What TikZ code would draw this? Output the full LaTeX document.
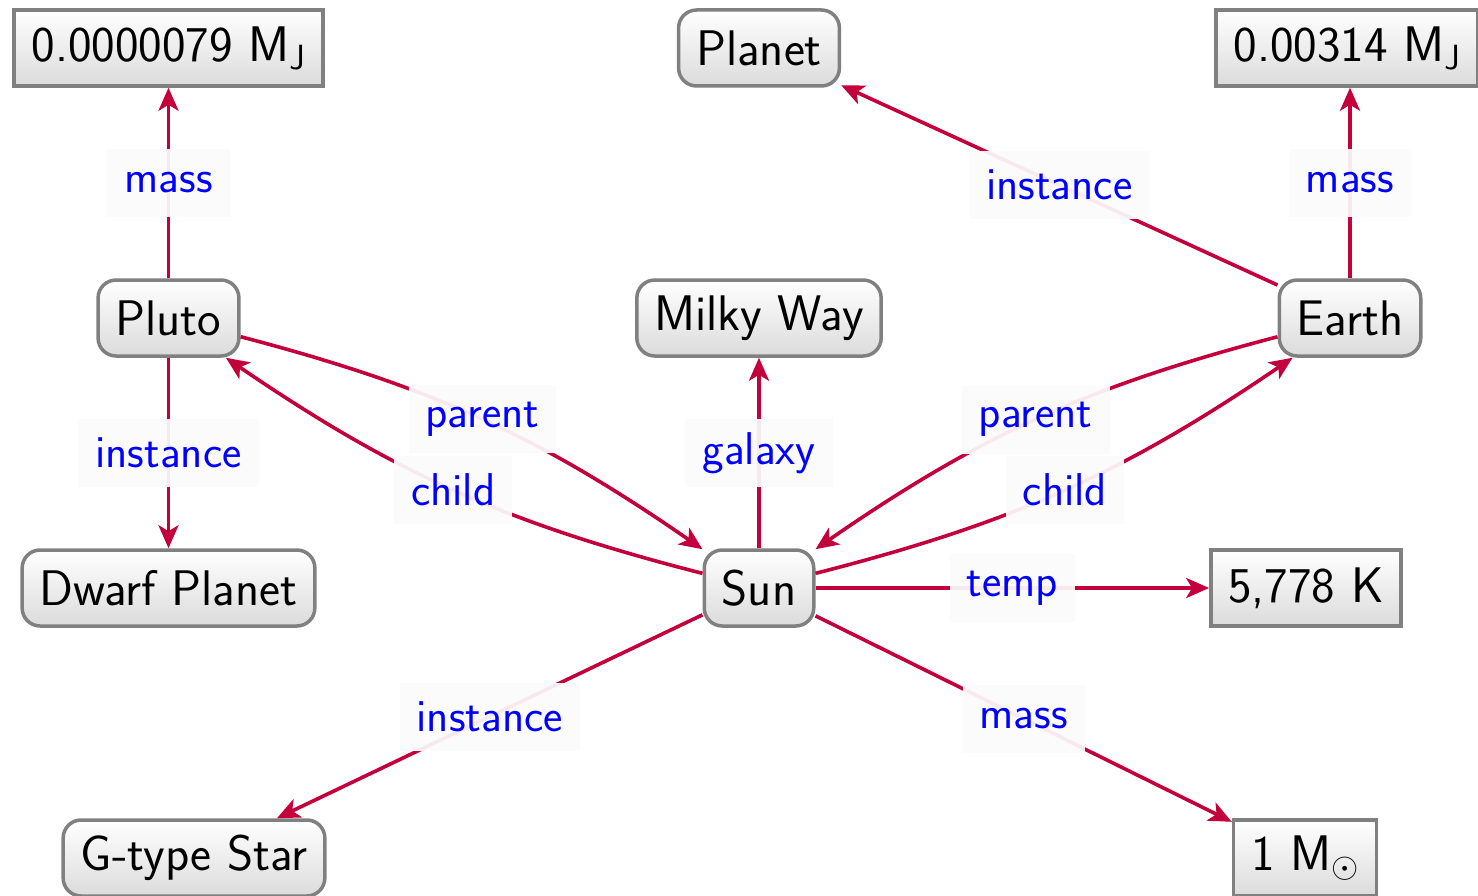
\documentclass[tikz,border=0pt]{standalone}
\usepackage{fix-cm}
\usetikzlibrary{arrows.meta}
\definecolor{edgecol}{RGB}{196,0,60}
\definecolor{labfill}{RGB}{252,251,252}
\tikzset{
  box/.style={draw=gray, line width=3.5pt, top color=white, bottom color=gray!28, minimum height=76pt, inner xsep=17.5pt, font=\fontsize{50}{60}\selectfont\sffamily},
  ent/.style={box, rounded corners=18pt},
  val/.style={box},
  rel/.style={draw=edgecol, line width=3.6pt, -{Stealth[length=23pt,width=20pt,inset=6pt]}},
  lab/.style={fill=labfill, fill opacity=0.93, text opacity=1, text=blue, inner xsep=17pt, minimum height=68pt}
}
\begin{document}
\begin{tikzpicture}[x=1pt, y=-1pt, font=\fontsize{46}{55}\selectfont\sffamily]
\useasboundingbox (0,0) rectangle (1478,896);
\node[val] (m1) at (168.5,48) {0.0000079 M$_\mathsf{J}$};
\node[ent] (planet) at (759,48) {Planet};
\node[val] (m2) at (1347,48) {0.00314 M$_\mathsf{J}$};
\node[ent] (pluto) at (168.5,318) {Pluto};
\node[ent] (mw) at (759,318) {Milky Way};
\node[ent] (earth) at (1350,318) {Earth};
\node[ent] (dwarf) at (168.5,588) {Dwarf Planet};
\node[ent] (sun) at (759,588) {Sun};
\node[val] (temp) at (1306,588) {5,778 K};
\node[ent] (gstar) at (194,858) {G-type Star};
\node[val] (msun) at (1305,858) {1 M$_\odot$};
\draw[rel] (pluto) -- node[lab]{mass} (m1);
\draw[rel] (pluto) -- node[lab]{instance} (dwarf);
\draw[rel] (earth.north) -- node[lab]{mass} (earth.north |- m2.south);
\draw[rel] (earth) -- node[lab]{instance} (planet);
\draw[rel] (sun) -- node[lab]{galaxy} (mw);
\draw[rel] (pluto) to[bend left=10] node[lab]{parent} (sun);
\draw[rel] (sun) to[bend left=10] node[lab]{child} (pluto);
\draw[rel] (earth) to[bend right=10] node[lab]{parent} (sun);
\draw[rel] (sun) to[bend right=10] node[lab]{child} (earth);
\draw[rel] (sun) -- node[lab]{temp} (temp);
\draw[rel] (sun) -- node[lab]{instance} (gstar);
\draw[rel] (sun) -- node[lab]{mass} (msun);
\end{tikzpicture}
\end{document}
